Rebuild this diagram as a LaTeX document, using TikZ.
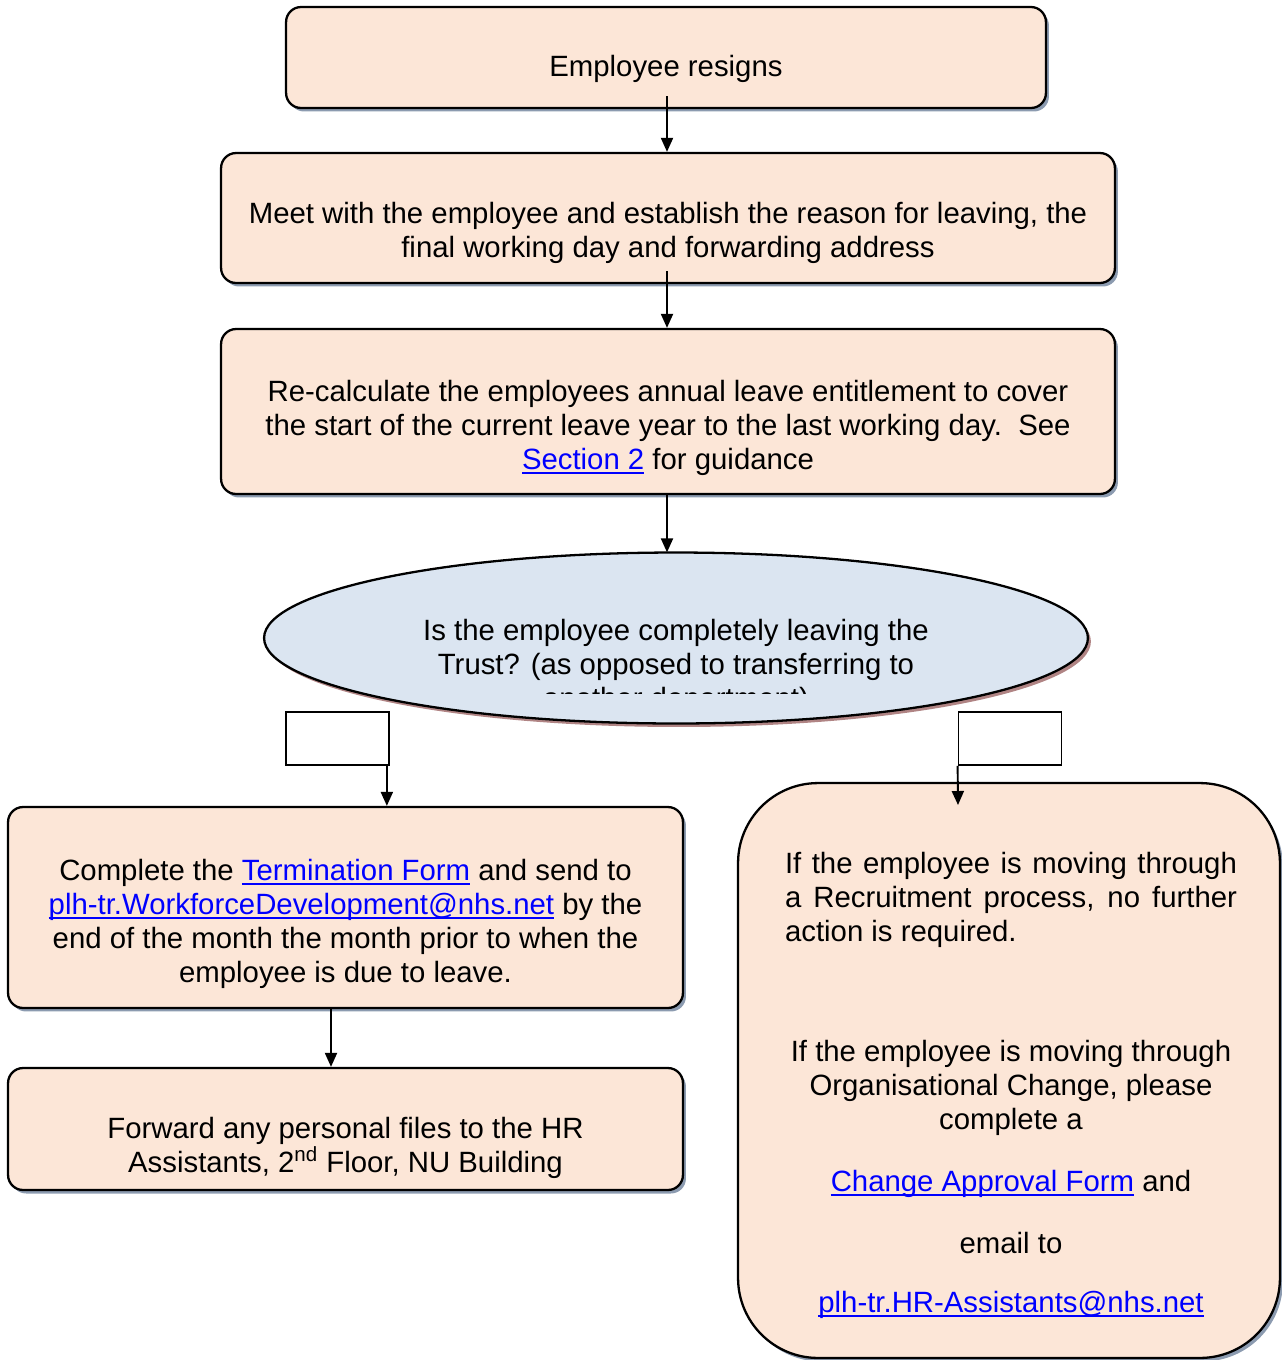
\documentclass[tikz,border=0pt]{standalone}
\usepackage{fontspec}
\setmainfont{Liberation Sans}
\usetikzlibrary{arrows.meta,shapes.geometric,shadows}
\definecolor{Peach}{HTML}{FCE6D7}
\definecolor{Mist}{HTML}{DBE5F1}
\definecolor{Slate}{HTML}{8C9BB0}
\definecolor{Rosy}{HTML}{B08484}
\definecolor{LinkBlue}{HTML}{0000FF}
\newcommand{\lnk}[1]{{\color{LinkBlue}\setbox0\hbox{#1}\rlap{\rule[-2.4pt]{\wd0}{1.1pt}}\box0}}

\begin{document}
\begin{tikzpicture}[x=0.02cm,y=-0.02cm, every node/.style={font=\fontsize{16.7}{19.3}\selectfont,align=center},
box/.style={draw,line width=1.3pt,fill=Peach,rounded corners=0.3cm,drop shadow={shadow xshift=0.06cm,shadow yshift=-0.07cm,fill=Slate,opacity=1}},
txt/.style={inner sep=0pt},
tag/.style={draw,line width=1pt,fill=white,minimum width=2.06cm,minimum height=1.06cm},
>={Triangle[length=0.28cm,width=0.24cm]}, line width=1.1pt]
\useasboundingbox (0,0) rectangle (1282,1360);
\node[box,minimum width=15.2cm,minimum height=2.02cm] (resign) at (666,57.5) {};
\node[txt] (resigntxt) at (666,69) {Employee resigns};
\node[box,minimum width=17.88cm,minimum height=2.6cm] (meet) at (668,218) {};
\node[txt] (meettxt) at (668,233) {Meet with the employee and establish the reason for leaving, the\\final working day and forwarding address};
\node[box,minimum width=17.88cm,minimum height=3.3cm] (recalc) at (668,411.5) {};
\node[txt] (recalctxt) at (668,428) {Re-calculate the employees annual leave entitlement to cover\\the start of the current leave year to the last working day.\ \ See\\\lnk{Section 2} for guidance};
% decision
\node[ellipse,draw,line width=1.3pt,fill=Mist,minimum width=16.48cm,minimum height=3.42cm,
  drop shadow={shadow xshift=0.06cm,shadow yshift=-0.07cm,fill=Rosy,opacity=1}] (leave) at (676,638) {};
\begin{scope}
\clip (0,600) rectangle (1282,693);
\node[txt] (leavetxt) at (676,667) {Is the employee completely leaving the\\Trust? (as opposed to transferring to\\another department)};
\end{scope}
\node[tag] (yes) at (337.5,738.5) {};
\node[tag] (no) at (1010,738.5) {};
% leaving the trust
\node[box,minimum width=13.5cm,minimum height=4.02cm] (term) at (345.5,907.5) {};
\node[txt] (termtxt) at (345.5,924) {Complete the \lnk{Termination Form} and send to\\\lnk{plh-tr.WorkforceDevelopment@nhs.net} by the\\end of the month the month prior to when the\\employee is due to leave.};
\node[box,minimum width=13.5cm,minimum height=2.44cm] (files) at (345.5,1129) {};
\node[txt] (filestxt) at (345.5,1148) {Forward any personal files to the HR\\Assistants, 2\textsuperscript{nd} Floor, NU Building};
% transfer
\node[box,rounded corners=1.6cm,minimum width=10.84cm,minimum height=11.5cm] (change) at (1009,1070.5) {};
\node[txt,text width=9.04cm,align=justify] (recruit) at (1011,900) {If the employee is moving through\linebreak a Recruitment process, no further\linebreak action is required.};
\node[txt] (orgchange) at (1011,1088) {If the employee is moving through\\Organisational Change, please\\complete a};
\node[txt] (formline) at (1011,1184) {\lnk{Change Approval Form} and};
\node[txt] (emailto) at (1011,1243) {email to};
\node[txt] (hrmail) at (1011,1305) {\lnk{plh-tr.HR-Assistants@nhs.net}};
\coordinate (noend) at (958,805);
\draw[->] ([xshift=0.02cm,yshift=0.26cm]resign.south) -- ([xshift=0.02cm]resign.south |- meet.north);
\draw[->] ([xshift=-0.02cm,yshift=0.26cm]meet.south) -- ([xshift=-0.02cm]meet.south |- recalc.north);
\draw[->] ([xshift=-0.02cm]recalc.south) -- ([xshift=-0.02cm,yshift=-0.02cm]recalc.south |- leave.north);
\draw[->] ([xshift=-0.06cm]yes.south east) -- ([xshift=-0.06cm]yes.south east |- term.north);
\draw[->] (no.south west) -- (noend);
\draw[->] ([xshift=-0.29cm]term.south) -- ([xshift=-0.29cm]files.north);
\end{tikzpicture}
\end{document}
